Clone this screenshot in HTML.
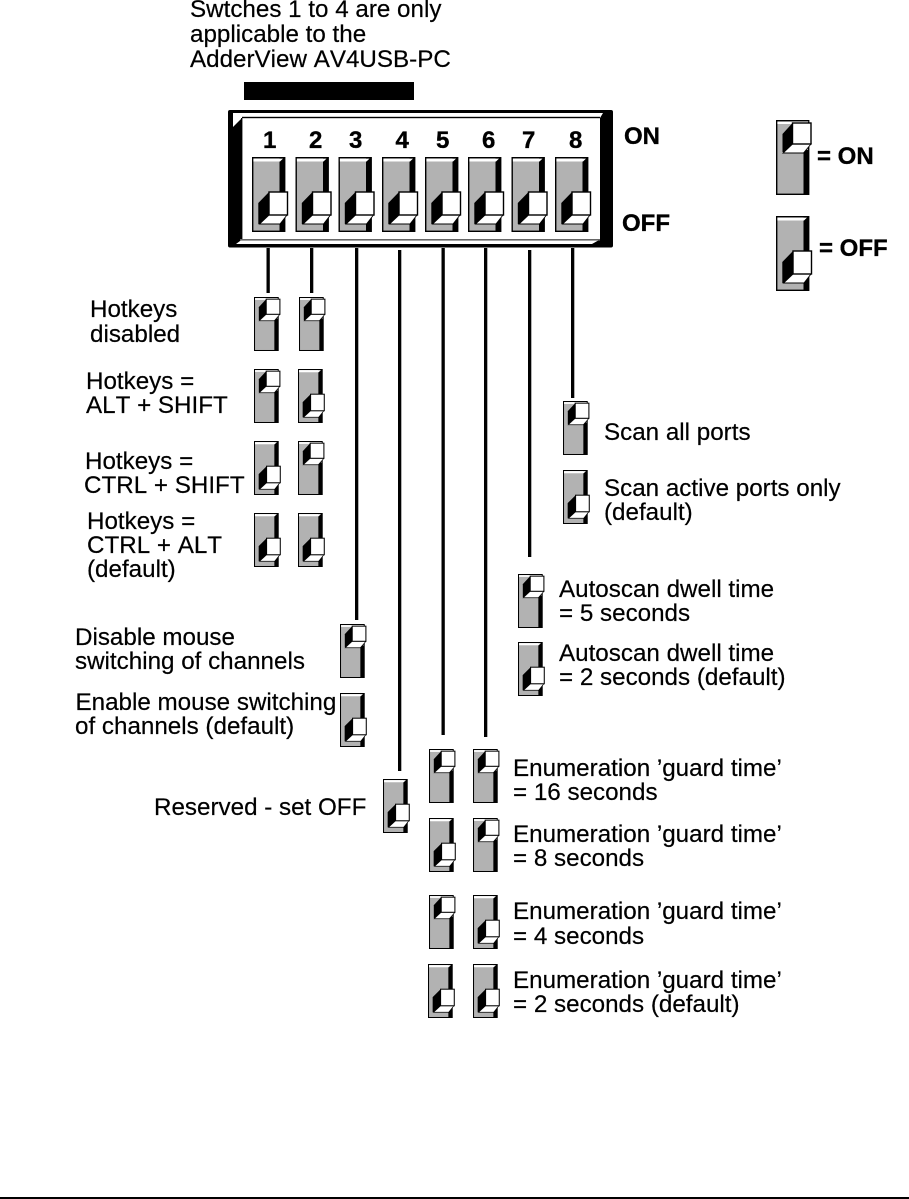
<!DOCTYPE html>
<html><head><meta charset="utf-8"><style>
html,body{margin:0;padding:0;background:#fff}
svg{display:block}
text{font-family:"Liberation Sans",Arial,sans-serif;font-size:24.2px;font-kerning:none;fill:#000;stroke:#000;stroke-width:.2}
.b{font-weight:bold;font-size:24px;stroke-width:.35}
</style></head><body>
<svg width="909" height="1199" viewBox="0 0 909 1199" xmlns="http://www.w3.org/2000/svg">
<defs>
<g id="on">
<rect x=".7" y=".7" width="32" height="73.6" fill="#b2b2b2" stroke="#000" stroke-width="1.4"/>
<polygon points="1.4,1.6 32.4,1.6 30,4 1.4,4" fill="#fff"/>
<rect x="27.5" y="30" width="5.5" height="44.5" fill="#000"/>
<polygon points="6.5,14 16.5,3 16.5,24 8,32 6.5,32" fill="#000"/>
<polygon points="16.5,24 35,24 27.5,33 7,33" fill="#fff" stroke="#000" stroke-width=".9"/>
<rect x="16.5" y="3" width="18.5" height="21" fill="#fff" stroke="#000" stroke-width="1.4"/>
</g>
<g id="off">
<rect x=".7" y=".7" width="32" height="73.6" fill="#b2b2b2" stroke="#000" stroke-width="1.4"/>
<rect x="27.5" y="1" width="5.5" height="73.5" fill="#000"/>
<polygon points="1.4,1.6 31,1.6 28,4.500 1.4,4.500" fill="#fff"/>
<polygon points="6.3,46 17,35 17,58 8,67 6.3,67" fill="#000"/>
<polygon points="17,58 35,58 28,67 7.5,67" fill="#fff" stroke="#000" stroke-width=".9"/>
<rect x="17" y="35" width="18.5" height="23" fill="#fff" stroke="#000" stroke-width="1.4"/>
</g>
</defs>

<text x="190" y="17">Swtches 1 to 4 are only</text>
<text x="190" y="42">applicable to the</text>
<text x="190" y="67">AdderView AV4USB-PC</text>
<rect x="244" y="82" width="170" height="18" fill="#000"/>

<!-- panel -->
<rect x="228" y="110" width="385" height="137.500" rx="2" fill="#000"/>
<polygon points="233,113 603,113 600,118 242,118 233,127" fill="#fff"/>
<polygon points="242,118 600,118 600,239 242,239" fill="#fff"/>
<polygon points="242,239.500 600,239.500 592,244 236,244" fill="#fff"/>
<rect x="242" y="116.800" width="358" height="1.4" fill="#000"/>
<rect x="241" y="118" width="1.4" height="122" fill="#000"/>
<rect x="240" y="239" width="360" height="1.6" fill="#666"/>

<g>
<text class="b" x="263" y="148">1</text>
<text class="b" x="309" y="148">2</text>
<text class="b" x="349" y="148">3</text>
<text class="b" x="395.500" y="148">4</text>
<text class="b" x="436" y="148">5</text>
<text class="b" x="482" y="148">6</text>
<text class="b" x="522" y="148">7</text>
<text class="b" x="569" y="148">8</text>
</g>
<use href="#off" x="252" y="157"/>
<use href="#off" x="295.500" y="157"/>
<use href="#off" x="338.500" y="157"/>
<use href="#off" x="382" y="157"/>
<use href="#off" x="425" y="157"/>
<use href="#off" x="468" y="157"/>
<use href="#off" x="511.500" y="157"/>
<use href="#off" x="555" y="157"/>

<text class="b" x="624" y="144">ON</text>
<text class="b" x="622" y="231">OFF</text>

<use href="#on" x="776" y="120"/>
<use href="#off" x="776" y="216"/>
<text class="b" x="817" y="164">= ON</text>
<text class="b" x="819" y="256">= OFF</text>

<!-- connectors -->
<g fill="#000">
<rect x="266.500" y="248" width="3.3" height="45"/>
<rect x="310" y="248" width="3.3" height="45"/>
<rect x="355" y="248" width="3.3" height="372"/>
<rect x="398" y="250" width="3.3" height="521"/>
<rect x="441.500" y="248" width="3.3" height="487"/>
<rect x="484" y="248" width="3.3" height="489"/>
<rect x="528" y="250" width="3.3" height="307"/>
<rect x="571" y="248" width="3.3" height="150"/>
<rect x="0" y="1197" width="909" height="2"/>
</g>

<!-- small switches -->
<g transform="translate(254 297) scale(.74 .72)"><use href="#on"/></g>
<g transform="translate(299 297) scale(.74 .72)"><use href="#on"/></g>
<g transform="translate(254 369) scale(.74 .72)"><use href="#on"/></g>
<g transform="translate(298 369) scale(.74 .72)"><use href="#off"/></g>
<g transform="translate(254 441) scale(.74 .72)"><use href="#off"/></g>
<g transform="translate(298 441) scale(.74 .72)"><use href="#on"/></g>
<g transform="translate(254 513) scale(.74 .72)"><use href="#off"/></g>
<g transform="translate(298 513) scale(.74 .72)"><use href="#off"/></g>
<g transform="translate(340 624) scale(.74 .72)"><use href="#on"/></g>
<g transform="translate(340 693) scale(.74 .72)"><use href="#off"/></g>
<g transform="translate(383 779) scale(.74 .72)"><use href="#off"/></g>
<g transform="translate(429 749) scale(.74 .72)"><use href="#on"/></g>
<g transform="translate(473 749) scale(.74 .72)"><use href="#on"/></g>
<g transform="translate(429 818) scale(.74 .72)"><use href="#off"/></g>
<g transform="translate(473 818) scale(.74 .72)"><use href="#on"/></g>
<g transform="translate(429 895) scale(.74 .72)"><use href="#on"/></g>
<g transform="translate(473 895) scale(.74 .72)"><use href="#off"/></g>
<g transform="translate(428 964) scale(.74 .72)"><use href="#off"/></g>
<g transform="translate(473 964) scale(.74 .72)"><use href="#off"/></g>
<g transform="translate(518 574) scale(.74 .72)"><use href="#on"/></g>
<g transform="translate(518 642) scale(.74 .72)"><use href="#off"/></g>
<g transform="translate(563 401) scale(.74 .72)"><use href="#on"/></g>
<g transform="translate(563 470) scale(.74 .72)"><use href="#off"/></g>

<!-- labels -->
<text x="90" y="317">Hotkeys</text>
<text x="90" y="342">disabled</text>
<text x="86" y="389">Hotkeys =</text>
<text x="86" y="413">ALT + SHIFT</text>
<text x="85" y="469">Hotkeys =</text>
<text x="84" y="493">CTRL + SHIFT</text>
<text x="87" y="529">Hotkeys =</text>
<text x="87" y="553">CTRL + ALT</text>
<text x="87" y="577">(default)</text>
<text x="75" y="645">Disable mouse</text>
<text x="75" y="669">switching of channels</text>
<text x="75.500" y="710">Enable mouse switching</text>
<text x="75" y="734">of channels (default)</text>
<text x="154" y="815">Reserved - set OFF</text>
<text x="604" y="440">Scan all ports</text>
<text x="604" y="496">Scan active ports only</text>
<text x="604" y="520">(default)</text>
<text x="559" y="597">Autoscan dwell time</text>
<text x="559" y="621">= 5 seconds</text>
<text x="559" y="661">Autoscan dwell time</text>
<text x="559" y="685">= 2 seconds (default)</text>
<text x="513" y="776">Enumeration ’guard time’</text>
<text x="513" y="800">= 16 seconds</text>
<text x="513" y="842">Enumeration ’guard time’</text>
<text x="513" y="866">= 8 seconds</text>
<text x="513" y="919">Enumeration ’guard time’</text>
<text x="513" y="944">= 4 seconds</text>
<text x="513" y="988">Enumeration ’guard time’</text>
<text x="513" y="1012">= 2 seconds (default)</text>
</svg>
</body></html>
